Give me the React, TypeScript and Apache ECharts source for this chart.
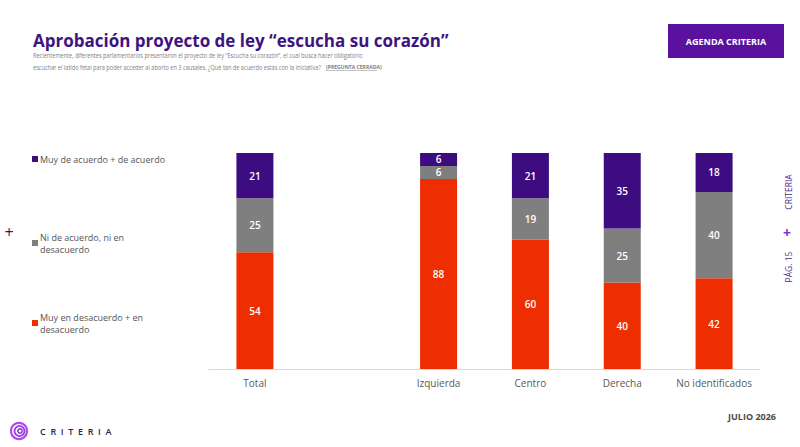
import React, { useEffect, useRef } from "react";
import * as echarts from "echarts";

// Segments listed bottom-up; "" is an empty spacer column after "Total".
const categories = ["Total", "", "Izquierda", "Centro", "Derecha", "No identificados"];
const seriesNames = [
  "Muy en desacuerdo + en desacuerdo",
  "Ni de acuerdo, ni en desacuerdo",
  "Muy de acuerdo + de acuerdo",
];
const desacuerdo: (number | string)[] = [54, "-", 88, 60, 40, 42];
const neutral: (number | string)[] = [25, "-", 6, 19, 25, 40];
const acuerdo: (number | string)[] = [21, "-", 6, 21, 35, 18];

const subtitleLines = [
  "Recientemente, diferentes parlamentarios presentaron el proyecto de ley “Escucha su corazón”, el cual busca hacer obligatorio",
  "escuchar el latido fetal para poder acceder al aborto en 3 causales. ¿Qué tan de acuerdo estás con la iniciativa?",
];

const FONT = "'Open Sans', 'Noto Sans', sans-serif";
const RED = "#ee2d00";
const GREY = "#7f7f7f";
const PURPLE = "#3c0c80";

export default function App() {
  const ref = useRef<HTMLDivElement>(null);

  useEffect(() => {
    document.body.style.margin = "0";
    const chart = echarts.init(ref.current!, null, { renderer: "svg" });

    const barLabel = {
      show: true,
      position: "inside",
      color: "#ffffff",
      fontFamily: FONT,
      fontWeight: 600,
      fontSize: 10,
    };

    const mkSeries = (name: string, data: (number | string)[], color: string) => ({
      name,
      type: "bar",
      stack: "total",
      data,
      barWidth: 37,
      itemStyle: { color },
      label: barLabel,
      emphasis: { disabled: true },
    });

    // Two-line legend entries get a top padding of one line so the
    // swatch sits beside the first line.
    const legendBase = (twoLines: boolean) => ({
      left: 32,
      orient: "vertical",
      icon: "rect",
      itemWidth: 6,
      itemHeight: 6,
      itemGap: 0,
      padding: 0,
      selectedMode: false,
      textStyle: {
        color: "#555555",
        fontFamily: FONT,
        fontSize: 9,
        lineHeight: 12,
        padding: twoLines ? [12, 0, 0, -3] : [0, 0, 0, -3],
      },
    });

    const subtitle = subtitleLines.map((text, i) => ({
      type: "text",
      x: 33,
      y: 55 + i * 12,
      scaleX: 0.8,
      style: {
        text,
        fill: "#808080",
        font: `7px ${FONT}`,
        verticalAlign: "middle",
      },
    }));

    chart.setOption({
      animation: false,
      backgroundColor: "#ffffff",
      grid: { left: 209, right: 40, top: 153, bottom: 78 },
      xAxis: {
        type: "category",
        data: categories,
        axisLine: { lineStyle: { color: "#d9d9d9", width: 1 } },
        axisTick: { show: false },
        axisLabel: {
          interval: 0,
          color: "#595959",
          fontFamily: FONT,
          fontSize: 10,
          margin: 9,
        },
      },
      yAxis: {
        type: "value",
        min: 0,
        max: 100,
        show: false,
        splitLine: { show: false },
      },
      legend: [
        {
          ...legendBase(false),
          top: 153,
          data: [seriesNames[2]],
          formatter: () => "Muy de acuerdo + de acuerdo",
        },
        {
          ...legendBase(true),
          top: 225,
          data: [seriesNames[1]],
          formatter: () => "Ni de acuerdo, ni en\ndesacuerdo",
        },
        {
          ...legendBase(true),
          top: 305,
          data: [seriesNames[0]],
          formatter: () => "Muy en desacuerdo + en\ndesacuerdo",
        },
      ],
      series: [
        mkSeries(seriesNames[0], desacuerdo, RED),
        mkSeries(seriesNames[1], neutral, GREY),
        mkSeries(seriesNames[2], acuerdo, PURPLE),
      ],
      graphic: [
        {
          type: "text",
          x: 33,
          y: 40,
          style: {
            text: "Aprobación proyecto de ley “escucha su corazón”",
            fill: "#3d1480",
            font: `bold 17px ${FONT}`,
            verticalAlign: "middle",
          },
        },
        ...subtitle,
        {
          type: "text",
          x: 326,
          y: 67,
          scaleX: 0.85,
          style: {
            text: "(PREGUNTA CERRADA)",
            fill: "#808080",
            font: `bold 6px ${FONT}`,
            verticalAlign: "middle",
          },
        },
        {
          type: "line",
          shape: { x1: 326, y1: 70.5, x2: 377, y2: 70.5 },
          style: { stroke: "#9a9a9a", lineWidth: 0.6 },
        },
        {
          type: "rect",
          shape: { x: 668, y: 24, width: 116, height: 34 },
          style: { fill: "#5a129e" },
        },
        {
          type: "text",
          x: 726,
          y: 41,
          style: {
            text: "AGENDA CRITERIA",
            fill: "#ffffff",
            font: `bold 9px ${FONT}`,
            align: "center",
            verticalAlign: "middle",
          },
        },
        {
          type: "text",
          x: 9,
          y: 232,
          style: {
            text: "+",
            fill: "#2e1a5c",
            font: `16px ${FONT}`,
            align: "center",
            verticalAlign: "middle",
          },
        },
        {
          type: "text",
          x: 788,
          y: 192,
          rotation: Math.PI / 2,
          style: {
            text: "CRITERIA",
            fill: "#4e2a88",
            font: `8.5px ${FONT}`,
            align: "center",
            verticalAlign: "middle",
          },
        },
        {
          type: "text",
          x: 787,
          y: 232,
          style: {
            text: "+",
            fill: "#8a2be2",
            font: `bold 14px ${FONT}`,
            align: "center",
            verticalAlign: "middle",
          },
        },
        {
          type: "text",
          x: 788,
          y: 267,
          rotation: Math.PI / 2,
          style: {
            text: "PÁG. 15",
            fill: "#4e2a88",
            font: `8.5px ${FONT}`,
            align: "center",
            verticalAlign: "middle",
          },
        },
        {
          type: "text",
          x: 776,
          y: 416,
          style: {
            text: "JULIO 2026",
            fill: "#4a4a4a",
            font: `bold 9px ${FONT}`,
            align: "right",
            verticalAlign: "middle",
          },
        },
        // brand mark: concentric rings
        {
          type: "circle",
          shape: { cx: 19, cy: 431, r: 8 },
          style: { fill: "none", stroke: "#b04ae8", lineWidth: 2.2 },
        },
        {
          type: "circle",
          shape: { cx: 19.5, cy: 431, r: 5 },
          style: { fill: "none", stroke: "#9a3ee0", lineWidth: 1.8 },
        },
        {
          type: "circle",
          shape: { cx: 20, cy: 431, r: 2.2 },
          style: { fill: "none", stroke: "#7a2cc8", lineWidth: 1.4 },
        },
        {
          type: "text",
          x: 40,
          y: 431,
          style: {
            text: "C  R  I  T  E  R  I  A",
            fill: "#2a1f4a",
            font: `600 9px ${FONT}`,
            verticalAlign: "middle",
          },
        },
      ],
    });

    return () => chart.dispose();
  }, []);

  return <div ref={ref} style={{ width: 800, height: 447 }} />;
}
